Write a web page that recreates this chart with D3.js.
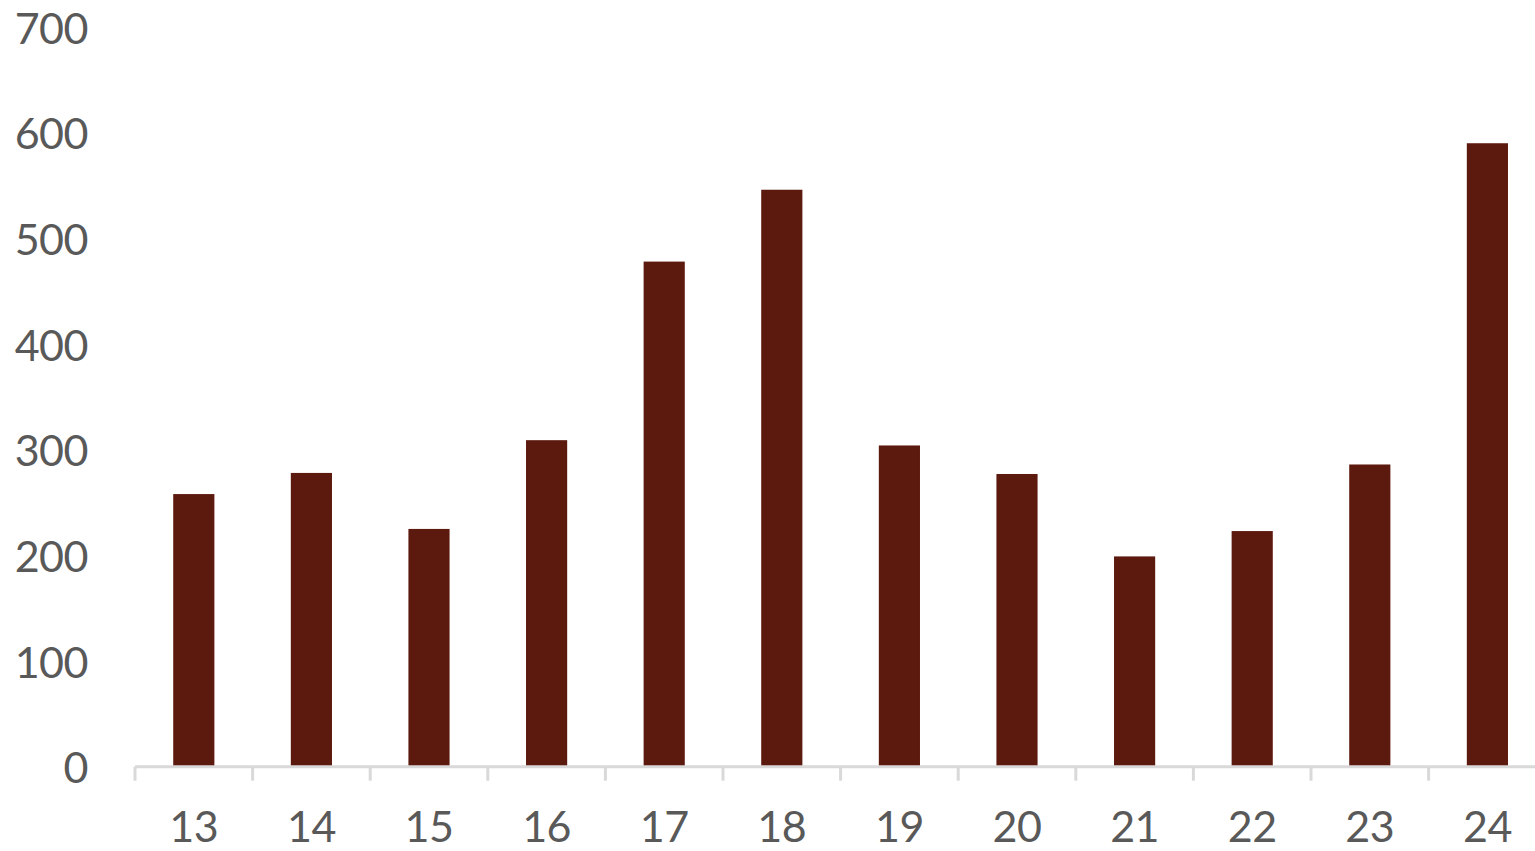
<!DOCTYPE html>
<html>
<head>
<meta charset="utf-8">
<script src="https://cdn.jsdelivr.net/npm/d3@7"></script>
<style>
  html, body { margin: 0; padding: 0; background: #fff; overflow: hidden; }
  svg { display: block; }
  text { font-family: Lato, "Open Sans", sans-serif; fill: #595959; }
</style>
</head>
<body>
<svg id="chart" width="1535" height="851"></svg>
<script>
const categories = ["13","14","15","16","17","18","19","20","21","22","23","24"];
const values = [258, 278, 225, 309, 478, 546, 304, 277, 199, 223, 286, 590];
const yTicks = [0, 100, 200, 300, 400, 500, 600, 700];

const svg = d3.select("#chart");
const x0 = 135, step = 117.6;
const x = d3.scaleBand().domain(categories)
  .range([x0, x0 + step * categories.length]).paddingInner(0).paddingOuter(0);
const y = d3.scaleLinear().domain([0, 700]).range([766.7, 27]);

const barW = x.bandwidth() * 0.35;

svg.append("g").selectAll("rect").data(categories).join("rect")
  .attr("x", d => x(d) + (x.bandwidth() - barW) / 2)
  .attr("y", (d, i) => y(values[i]))
  .attr("width", barW)
  .attr("height", (d, i) => y(0) - y(values[i]))
  .attr("fill", "#5c1a0e");

// y labels
svg.append("g").selectAll("text").data(yTicks).join("text")
  .attr("x", 88).attr("y", d => y(d))
  .attr("text-anchor", "end").attr("dominant-baseline", "central")
  .style("font-size", "43px")
  .style("letter-spacing", "-0.5px")
  .text(d => d);

// x axis line
svg.append("line")
  .attr("x1", x0).attr("x2", 1535)
  .attr("y1", y(0)).attr("y2", y(0))
  .attr("stroke", "#d9d9d9").attr("stroke-width", 3);

// tick marks at band boundaries
const bounds = categories.map(c => x(c)).concat([x.range()[1]]);
svg.append("g").selectAll("line").data(bounds).join("line")
  .attr("x1", d => d).attr("x2", d => d)
  .attr("y1", y(0)).attr("y2", y(0) + 14)
  .attr("stroke", "#d9d9d9").attr("stroke-width", 3);

// x labels
svg.append("g").selectAll("text.xl").data(categories).join("text")
  .attr("class", "xl")
  .attr("x", d => x(d) + x.bandwidth() / 2)
  .attr("y", 842)
  .attr("text-anchor", "middle")
  .style("font-size", "43px")
  .style("letter-spacing", "-0.5px")
  .text(d => d);
</script>
</body>
</html>
